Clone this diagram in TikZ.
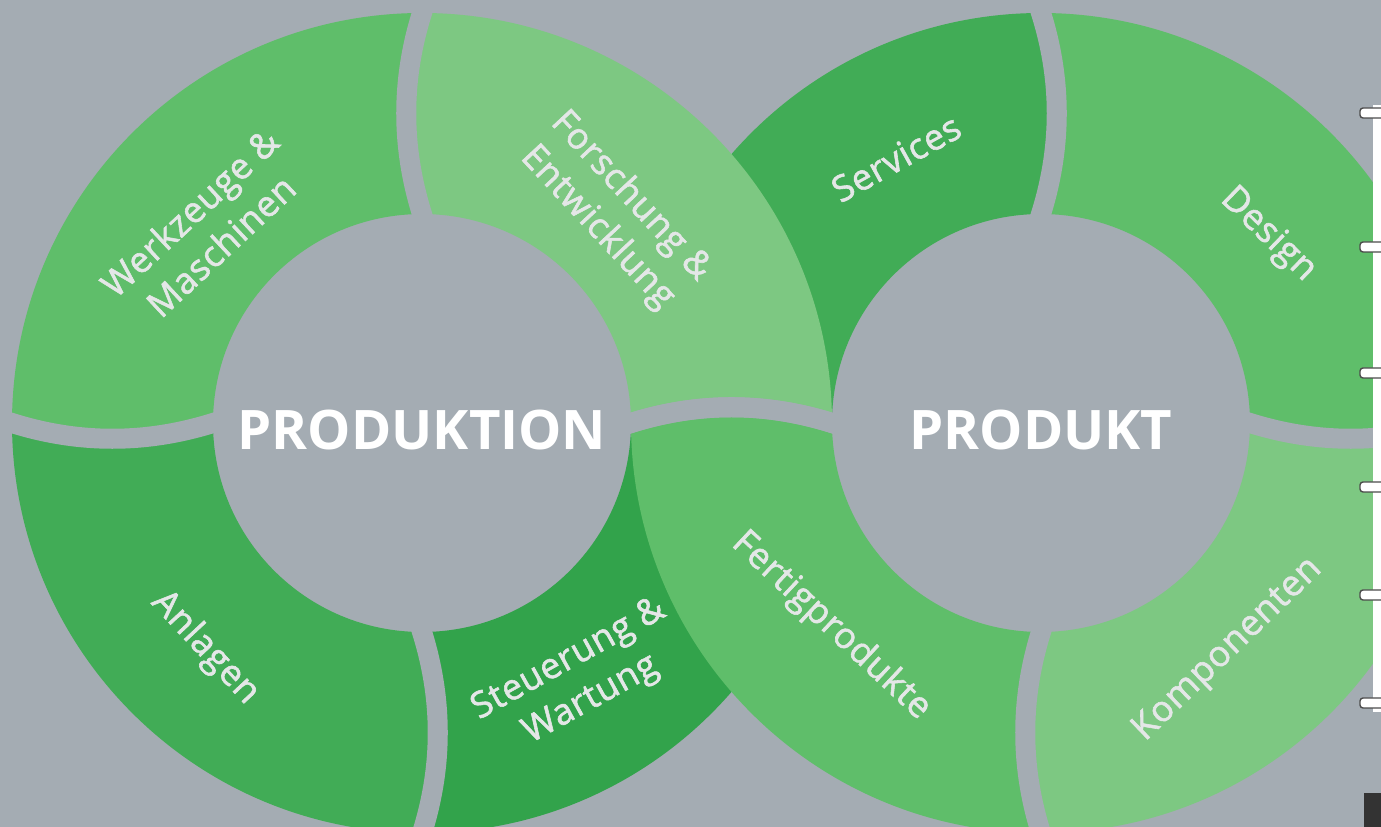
\documentclass[tikz,border=0pt]{standalone}
\usepackage{fontspec}
\setmainfont{Open Sans}
\newfontfamily\lblfont[FakeBold=1.6,LetterSpace=2]{Open Sans}
\usepackage{tikz}

\definecolor{bggray}{HTML}{A4ACB3}
\definecolor{lbltext}{HTML}{E4E7E7}
\definecolor{greenA}{HTML}{7DC882}
\definecolor{greenB}{HTML}{5FBE6A}
\definecolor{greenC}{HTML}{41AC56}
\definecolor{greenD}{HTML}{32A34B}

\newcommand{\ringseg}[5]{\fill[#5,shift={#1}] (#2:209) .. controls ({#2+(#4)*4.35}:277) and ({#2+(#4)*3.5}:344) .. (#2:410) arc[start angle=#2, end angle=#3, radius=410] .. controls ({#3+(#4)*3.5}:344) and ({#3+(#4)*4.35}:277) .. (#3:209) arc[start angle=#3, end angle=#2, radius=209] -- cycle;}
\newcommand{\ringcut}[3]{\draw[ringgap,shift={#1}] (#2:209) .. controls ({#2+(#3)*4.35}:277) and ({#2+(#3)*3.5}:344) .. (#2:410);}

\begin{document}
\begin{tikzpicture}[x=0.01cm,y=0.01cm,
	ringgap/.style={draw=bggray,line width=0.2cm,line cap=rect},
	lbl/.style={text=lbltext,font=\lblfont\fontsize{10.2}{13}\selectfont,align=center},
	title/.style={text=white,font=\fontsize{15.5}{18}\selectfont\bfseries}]
\useasboundingbox (0,0) rectangle (1381,827);
\fill[bggray] (0,0) rectangle (1381,827);

\ringseg{(1041,404)}{90}{180}{-1}{greenC}
\ringseg{(422,404)}{270}{360}{1}{greenD}

\ringseg{(422,404)}{0}{90}{1}{greenA}
\ringseg{(422,404)}{90}{180}{1}{greenB}
\ringseg{(422,404)}{180}{270}{1}{greenC}
\ringseg{(1041,404)}{0}{90}{-1}{greenB}
\ringseg{(1041,404)}{180}{270}{-1}{greenB}
\ringseg{(1041,404)}{270}{360}{-1}{greenA}

\foreach \a in {0,90,180,270}{
	\ringcut{(422,404)}{\a}{1}
	\ringcut{(1041,404)}{\a}{-1}
}

\node[title] (produktion) at (422,397) {PRODUKTION};
\node[title] (produkt) at (1041,397) {PRODUKT};

\node[lbl,rotate=43] (werkzeuge) at (205,598) {Werkzeuge \&\\Maschinen};
\node[lbl,rotate=-47] (forschung) at (614,615) {Forschung \&\\Entwicklung};
\node[lbl,rotate=29] (services) at (896,669) {Services};
\node[lbl,rotate=-44] (design) at (1268,592) {Design};
\node[lbl,rotate=-47] (anlagen) at (205,179) {Anlagen};
\node[lbl,rotate=29] (steuerung) at (580,147) {Steuerung \&\\Wartung};
\node[lbl,rotate=-43] (fertig) at (831,201) {Fertigprodukte};
\node[lbl,rotate=44] (komponenten) at (1228,177) {Komponenten};

\fill[white] (1373,115) rectangle (1381,722);
\foreach \y in {714,580,454,340,232,124}
	\draw[black!70,fill=white,rounded corners=0.03cm] (1360,\y-5) rectangle (1386,\y+5);
\fill[black!80] (1364,0) rectangle (1381,34);
\end{tikzpicture}
\end{document}
